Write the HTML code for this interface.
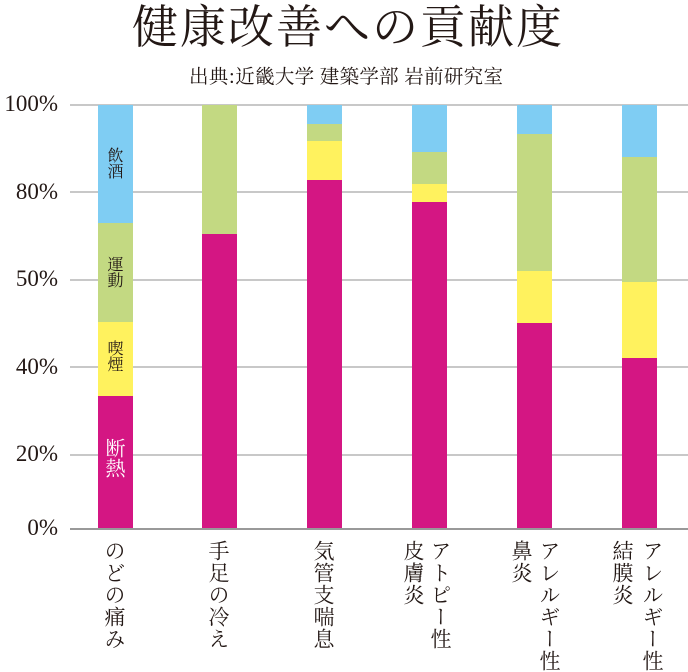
<!DOCTYPE html>
<html><head><meta charset="utf-8"><style>
body{margin:0;background:#fff;width:688px;height:668px;overflow:hidden;position:relative;font-family:"Liberation Serif","Noto Serif CJK SC",serif;color:#231815}
.a{position:absolute}
.g{position:absolute;left:70px;width:618px;height:2px;background:#c8c8c8}
.y{position:absolute;right:630px;font-size:23px;line-height:22px;text-align:right}
.b{position:absolute;width:35px}
.v{position:absolute;writing-mode:vertical-rl;font-size:21px;line-height:22px;letter-spacing:1px;top:540px;white-space:nowrap;font-family:"Noto Serif CJK SC",serif}
.il{position:absolute;writing-mode:vertical-rl;font-size:16px;line-height:16px;left:107px;font-family:"Noto Serif CJK SC",serif}
</style></head><body>
<div class="a" style="left:0;width:688px;top:0;text-align:center;font-size:46px;line-height:48px;letter-spacing:2px;padding-left:8px;box-sizing:border-box;font-family:'Noto Serif CJK SC',serif;">健康改善への貢献度</div>
<div class="a" style="left:189px;top:64px;font-size:19.5px;line-height:22px;letter-spacing:0.3px;font-family:'Noto Serif CJK SC',serif;">出典:近畿大学 建築学部 岩前研究室</div>

<div class="g" style="top:104px"></div>
<div class="g" style="top:191px"></div>
<div class="g" style="top:279px"></div>
<div class="g" style="top:366px"></div>
<div class="g" style="top:454px"></div>
<div class="g" style="top:528px;background:#999"></div>

<div class="y" style="top:93px">100%</div>
<div class="y" style="top:181px">80%</div>
<div class="y" style="top:268px">50%</div>
<div class="y" style="top:356px">40%</div>
<div class="y" style="top:443px">20%</div>
<div class="y" style="top:517px">0%</div>

<div class="b" style="left:98px;top:105px;height:118px;background:#7fcdf3"></div>
<div class="b" style="left:98px;top:223px;height:99px;background:#c3d982"></div>
<div class="b" style="left:98px;top:322px;height:74px;background:#fff25e"></div>
<div class="b" style="left:98px;top:396px;height:132px;background:#d41683"></div>
<div class="il" style="top:147px">飲酒</div>
<div class="il" style="top:256px">運動</div>
<div class="il" style="top:340px">喫煙</div>
<div class="il" style="top:438px;color:#fff;font-size:20px;line-height:20px;left:105px">断熱</div>
<div class="b" style="left:202px;top:105px;height:129px;background:#c3d982"></div>
<div class="b" style="left:202px;top:234px;height:294px;background:#d41683"></div>
<div class="b" style="left:307px;top:105px;height:19px;background:#7fcdf3"></div>
<div class="b" style="left:307px;top:124px;height:17px;background:#c3d982"></div>
<div class="b" style="left:307px;top:141px;height:39px;background:#fff25e"></div>
<div class="b" style="left:307px;top:180px;height:348px;background:#d41683"></div>
<div class="b" style="left:412px;top:105px;height:47px;background:#7fcdf3"></div>
<div class="b" style="left:412px;top:152px;height:32px;background:#c3d982"></div>
<div class="b" style="left:412px;top:184px;height:18px;background:#fff25e"></div>
<div class="b" style="left:412px;top:202px;height:326px;background:#d41683"></div>
<div class="b" style="left:517px;top:105px;height:29px;background:#7fcdf3"></div>
<div class="b" style="left:517px;top:134px;height:137px;background:#c3d982"></div>
<div class="b" style="left:517px;top:271px;height:52px;background:#fff25e"></div>
<div class="b" style="left:517px;top:323px;height:205px;background:#d41683"></div>
<div class="b" style="left:622px;top:105px;height:52px;background:#7fcdf3"></div>
<div class="b" style="left:622px;top:157px;height:125px;background:#c3d982"></div>
<div class="b" style="left:622px;top:282px;height:76px;background:#fff25e"></div>
<div class="b" style="left:622px;top:358px;height:170px;background:#d41683"></div>

<div class="v" style="left:104px">のどの痛み</div>
<div class="v" style="left:208px">手足の冷え</div>
<div class="v" style="left:313px">気管支喘息</div>
<div class="v" style="left:430px">アトピー性</div>
<div class="v" style="left:403px">皮膚炎</div>
<div class="v" style="left:539px">アレルギー性</div>
<div class="v" style="left:511px">鼻炎</div>
<div class="v" style="left:642px">アレルギー性</div>
<div class="v" style="left:612px">結膜炎</div>
</body></html>
